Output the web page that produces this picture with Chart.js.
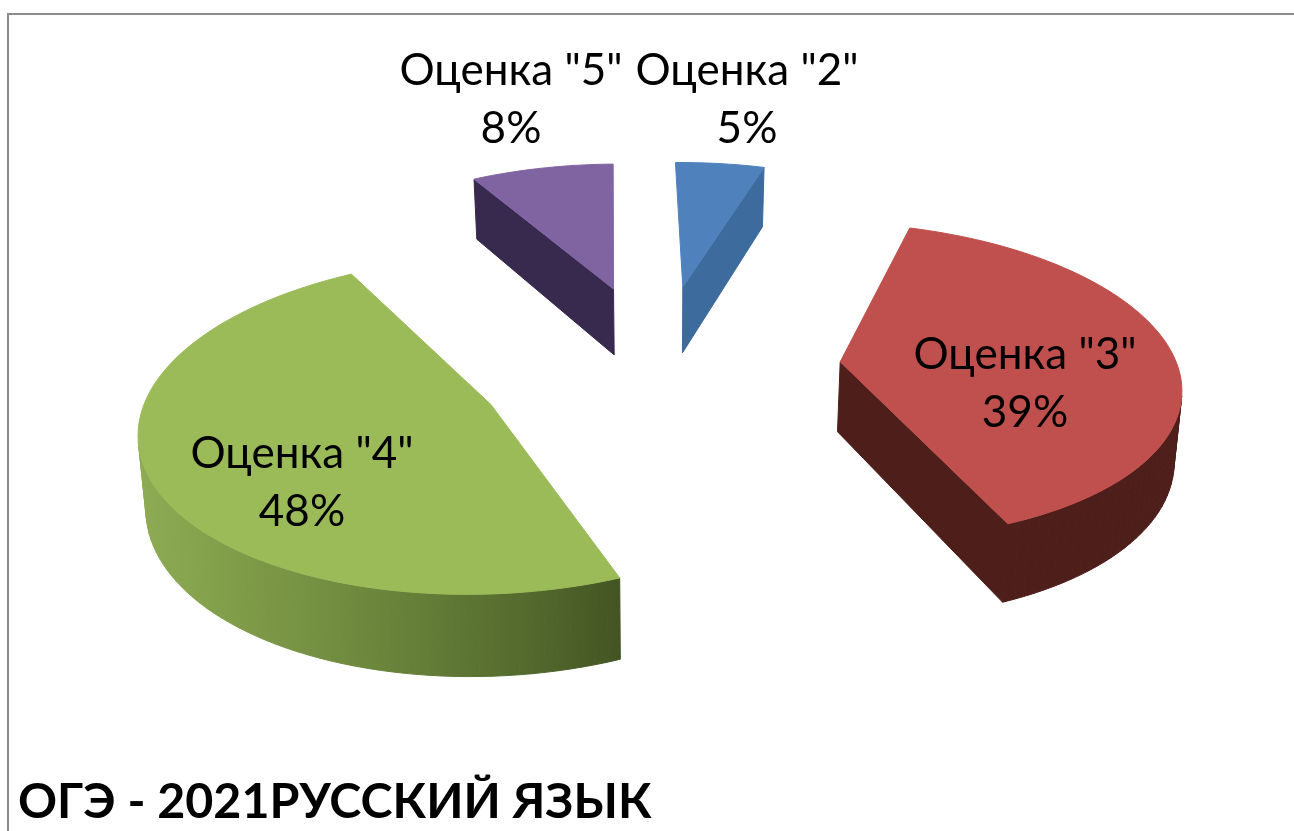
<!DOCTYPE html>
<html lang="ru">
<head>
<meta charset="utf-8">
<title>ОГЭ - 2021 РУССКИЙ ЯЗЫК</title>
<script src="https://cdn.jsdelivr.net/npm/chart.js@4"></script>
<style>
    html, body { margin: 0; padding: 0; background: #fff; overflow: hidden; }
    #frame { position: absolute; left: 7px; top: 13px; right: 0; bottom: 0; border-top: 2px solid #8c8c8c; border-left: 2px solid #8c8c8c; }
    #chart { position: absolute; left: 0; top: 0; }
</style>
</head>
<body>
<div id="frame"></div>
<canvas id="chart" width="1294" height="831"></canvas>
<script>
const categories = ['Оценка "2"', 'Оценка "3"', 'Оценка "4"', 'Оценка "5"'];
const shares = [5, 39, 48, 8];
const chartTitle = 'ОГЭ - 2021РУССКИЙ ЯЗЫК';

const topColors = ['#4f81bd', '#c0504d', '#9bbb59', '#8064a2'];
const wallColors = ['#3d6b9e', '#4e1e1b', null, '#38294f'];
const labelSpots = [[747, 85], [1025, 369], [302, 468], [511, 85]];

// Look of the tilted pie on screen
const CX = 659, CY = 366;
const RX = 337, RY = 157;
const PERSPECTIVE = 0.12;
const DEPTH = 70;
const BOTTOM_SCALE = 0.985;
const LABEL_FONT = '44px Lato, "Noto Sans", sans-serif';
const LINE_GAP = 58;

function project(u, v, down) {
    const w = 1 - PERSPECTIVE * v;
    let x = CX + RX * u / w;
    let y = CY + RY * v / w;
    if (down) {
        x = CX + (x - CX) * BOTTOM_SCALE;
        y += DEPTH / w;
    }
    return { x, y };
}

// Outline of one slice from the arc element the library laid out
function sliceOutline(arc) {
    const p = arc.getProps(['startAngle', 'endAngle']);
    const mid = (p.startAngle + p.endAngle) / 2;
    const shift = arc.options.offset / RX;
    const ox = Math.cos(mid) * shift, oy = Math.sin(mid) * shift;
    const outline = [{ u: ox, v: oy }];
    const steps = Math.max(6, Math.round((p.endAngle - p.startAngle) * 30));
    for (let i = 0; i <= steps; i++) {
        const a = p.startAngle + (p.endAngle - p.startAngle) * i / steps;
        outline.push({ u: ox + Math.cos(a), v: oy + Math.sin(a) });
    }
    return { outline, depthKey: Math.sin(mid) };
}

function fillPoly(ctx, pts, color) {
    ctx.beginPath();
    pts.forEach((pt, i) => i ? ctx.lineTo(pt.x, pt.y) : ctx.moveTo(pt.x, pt.y));
    ctx.closePath();
    ctx.fillStyle = color;
    ctx.strokeStyle = color;
    ctx.lineWidth = 1;
    ctx.fill();
    ctx.stroke();
}

function greenWall(ctx) {
    const g = ctx.createLinearGradient(135, 0, 622, 0);
    g.addColorStop(0, '#8eac53');
    g.addColorStop(0.45, '#6f8a3e');
    g.addColorStop(0.8, '#546a2e');
    g.addColorStop(1, '#435423');
    return g;
}

const tiltedPie = {
    id: 'tiltedPie',
    beforeDatasetsDraw(chart) {
        const ctx = chart.ctx;
        const arcs = chart.getDatasetMeta(0).data;
        const slices = arcs.map((arc, i) => ({ i, ...sliceOutline(arc) }));
        slices.sort((a, b) => a.depthKey - b.depthKey);

        slices.forEach(s => {
            const pts = s.outline;
            const wall = wallColors[s.i] || greenWall(ctx);
            // walls, only those that face the viewer (near vertical edges show nothing)
            for (let k = 0; k < pts.length; k++) {
                const a = pts[k], b = pts[(k + 1) % pts.length];
                const p1 = project(a.u, a.v), p2 = project(b.u, b.v);
                if (p2.x - p1.x > -0.1 * Math.abs(p2.y - p1.y)) continue;
                fillPoly(ctx, [p1, p2, project(b.u, b.v, true), project(a.u, a.v, true)], wall);
            }
            fillPoly(ctx, pts.map(pt => project(pt.u, pt.v)), topColors[s.i]);
        });
        return false;
    },
    afterDraw(chart) {
        const ctx = chart.ctx;
        ctx.save();
        ctx.font = LABEL_FONT;
        ctx.fillStyle = '#000';
        ctx.textAlign = 'center';
        ctx.textBaseline = 'alphabetic';
        categories.forEach((name, i) => {
            const [x, y] = labelSpots[i];
            ctx.fillText(name, x, y);
            ctx.fillText(shares[i] + '%', x, y + LINE_GAP);
        });
        ctx.restore();
    }
};

new Chart(document.getElementById('chart'), {
    type: 'pie',
    data: {
        labels: categories,
        datasets: [{
            data: shares,
            backgroundColor: topColors,
            borderWidth: 0,
            offset: 182
        }]
    },
    options: {
        responsive: false,
        animation: false,
        rotation: -1,
        layout: { padding: { left: 18, bottom: 0 } },
        events: [],
        plugins: {
            legend: { display: false },
            tooltip: { enabled: false },
            title: {
                display: true,
                text: chartTitle,
                position: 'bottom',
                align: 'start',
                color: '#000',
                padding: 0,
                font: { family: 'Lato, "Noto Sans", sans-serif', size: 48.4, weight: 'bold' }
            }
        }
    },
    plugins: [tiltedPie]
});
</script>
</body>
</html>
